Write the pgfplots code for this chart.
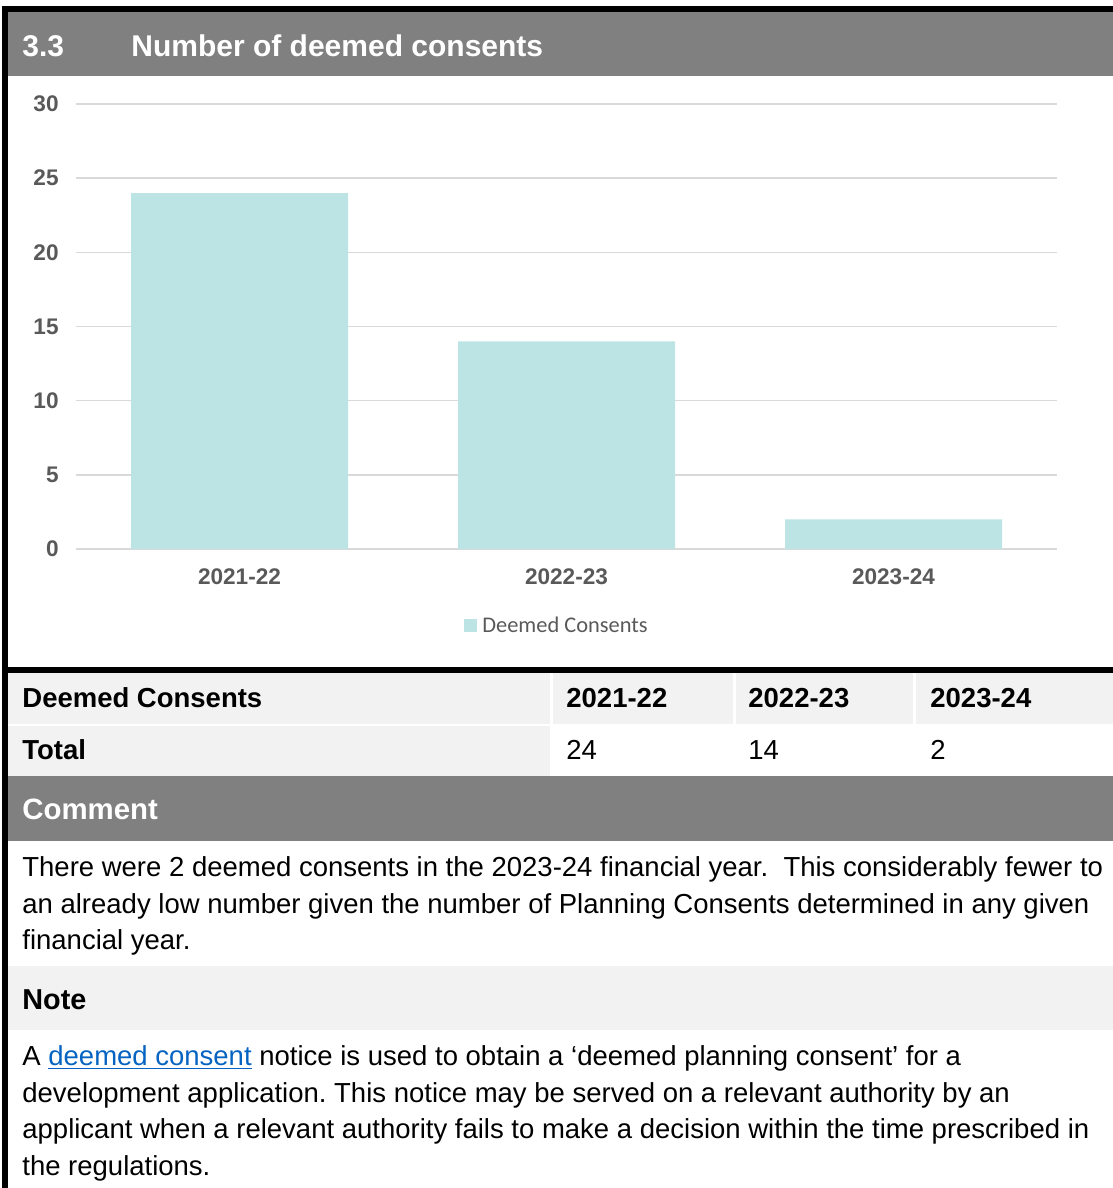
\documentclass[border=0pt]{standalone}
\usepackage{fontspec}
\setmainfont{Liberation Sans}
\newfontfamily\carlito{Carlito}
\usepackage{pgfplots}
\pgfplotsset{compat=1.18}
\definecolor{hdrgray}{HTML}{808080}
\definecolor{lightgray}{HTML}{F2F2F2}
\definecolor{barcol}{RGB}{189,228,228}
\definecolor{gridcol}{HTML}{D9D9D9}
\definecolor{tickgray}{HTML}{595959}
\definecolor{linkblue}{HTML}{0563C1}
\newcommand\bodyfont{\fontsize{13.75pt}{16pt}\selectfont}
\frenchspacing
\begin{document}
\begin{tikzpicture}[x=0.5pt,y=-0.5pt]
\path[use as bounding box] (0,0) rectangle (1113,1188);
% frame and bands
\fill[black] (2,6) rectangle (8,1188);
\fill[black] (2,6) rectangle (1113,12);
\fill[hdrgray] (8,12) rectangle (1113,76);
\fill[black] (8,667) rectangle (1113,673);
\fill[lightgray] (8,673) rectangle (550,724);
\fill[lightgray] (553,673) rectangle (733,724);
\fill[lightgray] (736,673) rectangle (913,724);
\fill[lightgray] (916,673) rectangle (1113,724);
\fill[lightgray] (8,726) rectangle (550,776);
\fill[hdrgray] (8,776) rectangle (1113,841);
\fill[lightgray] (8,966) rectangle (1113,1030);
% title
\node[anchor=base west, inner sep=0pt, text=white, font=\bfseries\fontsize{15pt}{18pt}\selectfont] at (22,57) {3.3};
\node[anchor=base west, inner sep=0pt, text=white, font=\bfseries\fontsize{15pt}{18pt}\selectfont] at (131,57) {Number of deemed consents};
% chart
\begin{axis}[
 at={(38pt,-274.5pt)}, anchor=south west,
 scale only axis, width=490.5pt, height=222.5pt,
 ybar, bar width=108.5pt,
 xmin=-0.5, xmax=2.5, ymin=0, ymax=30,
 xtick={0,1,2}, xticklabels={2021-22,2022-23,2023-24},
 ytick={0,5,...,30},
 ymajorgrids, grid style={gridcol, line width=0.75pt},
 axis line style={draw=none},
 major tick length=0pt,
 tick label style={font=\bfseries\fontsize{11.3pt}{13pt}\selectfont, text=tickgray},
 /pgf/number format/assume math mode=true,
 yticklabel style={inner sep=0pt, anchor=east, xshift=-8.5pt},
 xticklabel style={inner sep=0pt, anchor=north, yshift=-9.5pt},
 legend style={at={(0.3955,-0.173)}, anchor=west, draw=none, fill=none, inner sep=0pt,
   font=\carlito\fontsize{11.2pt}{13pt}\selectfont, text=tickgray, nodes={inner sep=0pt},
   /tikz/every odd column/.append style={column sep=2.5pt}},
 legend image code/.code={\fill[barcol] (0pt,-3.25pt) rectangle (6.5pt,3.25pt);},
]
\addplot[fill=barcol, draw=none] coordinates {(0,24) (1,14) (2,2)};
\addlegendentry{Deemed Consents}
\end{axis}
% table
\begin{scope}[every node/.style={anchor=base west, inner sep=0pt}]
\node[font=\bfseries\bodyfont] at (22,707) {Deemed Consents};
\node[font=\bfseries\bodyfont] at (566,707) {2021-22};
\node[font=\bfseries\bodyfont] at (748,707) {2022-23};
\node[font=\bfseries\bodyfont] at (930,707) {2023-24};
\node[font=\bfseries\bodyfont] at (22,759) {Total};
\node[font=\bodyfont] at (566,759) {24};
\node[font=\bodyfont] at (748,759) {14};
\node[font=\bodyfont] at (930,759) {2};
% comment
\node[text=white, font=\bfseries\fontsize{14.7pt}{17pt}\selectfont] at (22,819) {Comment};
\node[font=\bodyfont] at (22,876) {There were 2 deemed consents in the 2023-24 financial year.\ \ This considerably fewer to};
\node[font=\bodyfont] at (22,913) {an already low number given the number of Planning Consents determined in any given};
\node[font=\bodyfont] at (22,949) {financial year.};
% note
\node[font=\bfseries\fontsize{14.4pt}{17pt}\selectfont] at (22,1009) {Note};
\node[font=\bodyfont] at (22,1065) {A \textcolor{linkblue}{\underline{deemed consent}} notice is used to obtain a ‘deemed planning consent’ for a};
\node[font=\bodyfont] at (22,1102) {development application. This notice may be served on a relevant authority by an};
\node[font=\bodyfont] at (22,1138) {applicant when a relevant authority fails to make a decision within the time prescribed in};
\node[font=\bodyfont] at (22,1175) {the regulations.};
\end{scope}
\end{tikzpicture}
\end{document}
